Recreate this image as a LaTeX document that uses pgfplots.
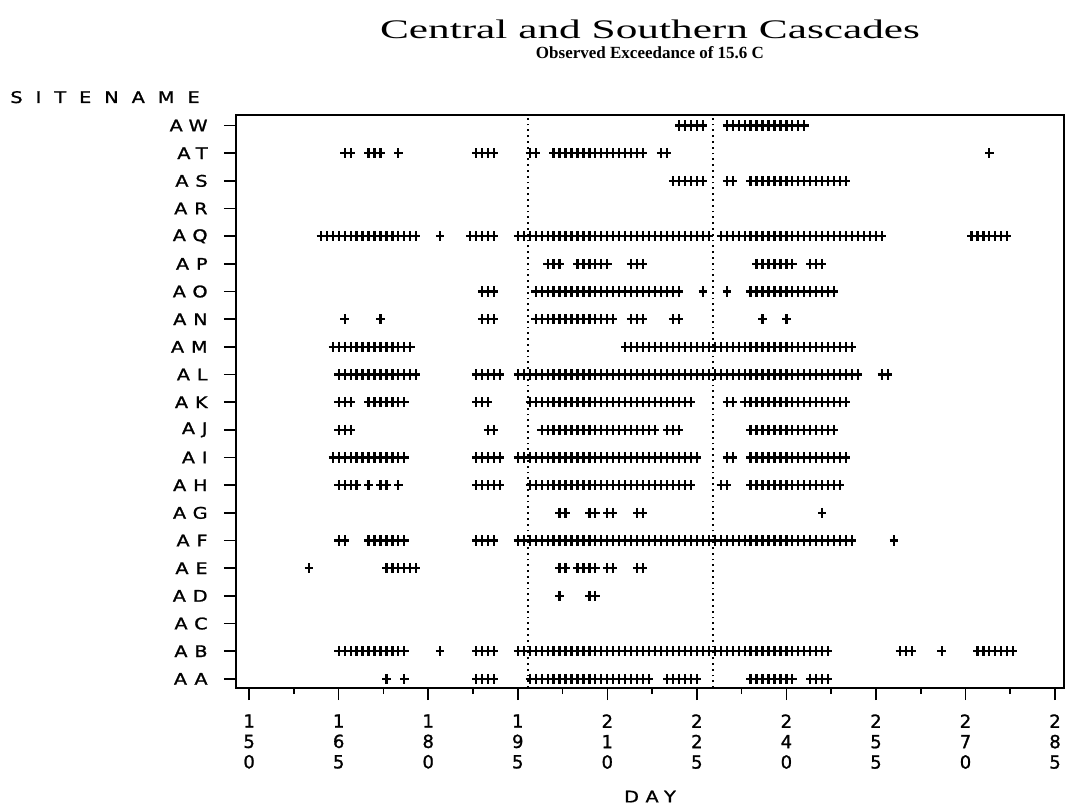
\documentclass[border=0pt]{standalone}
\usepackage{graphicx}
\usepackage{fontspec}
\usepackage{pgfplots}
\pgfplotsset{compat=1.18}
\setmainfont{Liberation Serif}
\newfontfamily\labfont[LetterSpace=36,FakeBold=1.2]{DejaVu Sans}
\newfontfamily\sitefont[LetterSpace=68,FakeBold=1.2]{DejaVu Sans}
\newfontfamily\digfont[FakeBold=1.2]{DejaVu Sans}
\newfontfamily\titfont{Liberation Serif}
\newcommand\ws[1]{\scalebox{1.2}[1]{#1}}

\pgfplotsset{plus/.style={only marks, black, mark=+, mark size=2.1pt, line width=1.1pt, mark options={yscale=1.2}}}

\begin{document}
\begin{tikzpicture}[x=1pt,y=1pt]
\path[use as bounding box] (0,0) rectangle (533.5,405);
\node[anchor=base,inner sep=0pt] at (325,385.5) {\resizebox{270pt}{9.3pt}{\titfont Central and Southern Cascades}};
\node[anchor=base,inner sep=0pt] at (325,375.5) {\resizebox{114pt}{6pt}{\titfont\bfseries Observed Exceedance of 15.6 C}};
\node[anchor=base west,inner sep=0pt] at (5,353.5) {\fontsize{8}{10}\sitefont\ws{SITENAME}};
\node[anchor=base,inner sep=0pt] at (325,3.8) {\fontsize{8}{10}\labfont\ws{DAY}};
\begin{axis}[
  at={(118pt,61pt)}, anchor=south west,
  width=414pt, height=286.5pt, scale only axis,
  xmin=147.8, xmax=286.5, ymin=-0.33, ymax=20.38,
  xtick={150,165,180,195,210,225,240,255,270,285},
  minor x tick num=1,
  xticklabels={{1\\5\\0},{1\\6\\5},{1\\8\\0},{1\\9\\5},{2\\1\\0},{2\\2\\5},{2\\4\\0},{2\\5\\5},{2\\7\\0},{2\\8\\5}},
  ytick={0,...,20},
  yticklabels={\ws{AA},\ws{AB},\ws{AC},\ws{AD},\ws{AE},\ws{AF},\ws{AG},\ws{AH},\ws{AI},\ws{AJ},\ws{AK},\ws{AL},\ws{AM},\ws{AN},\ws{AO},\ws{AP},\ws{AQ},\ws{AR},\ws{AS},\ws{AT},\ws{AW}},
  tick pos=left, tick align=outside,
  major tick length=6pt, minor tick length=3pt,
  axis line style={line width=1.3pt},
  every tick/.style={black, line width=0.8pt},
  xticklabel style={align=center, inner sep=0pt, anchor=north, yshift=-7pt,
    font={\fontsize{9}{10.2}\digfont}},
  yticklabel style={inner sep=0pt, anchor=east, xshift=-8pt,
    font={\fontsize{8}{10}\labfont}},
  clip=false,
]
\addplot[black, line width=0.9pt, dash pattern=on 0.9pt off 2pt] coordinates {(196.7,-0.33) (196.7,20.38)};
\addplot[black, line width=0.9pt, dash pattern=on 0.9pt off 2pt] coordinates {(227.7,-0.33) (227.7,20.38)};
% AW
\addplot[plus] coordinates {(222,20)(223,20)(224,20)(225,20)(226,20)(230,20)(231,20)(232,20)(233,20)(234,20)(235,20)(236,20)(237,20)(238,20)(239,20)(240,20)(241,20)(242,20)(243,20)};
% AT
\addplot[plus] coordinates {(166,19)(167,19)(170,19)(171,19)(172,19)(175,19)(188,19)(189,19)(190,19)(191,19)(197,19)(198,19)(201,19)(202,19)(203,19)(204,19)(205,19)(206,19)(207,19)(208,19)(209,19)(210,19)(211,19)(212,19)(213,19)(214,19)(215,19)(216,19)(219,19)(220,19)(274,19)};
% AS
\addplot[plus] coordinates {(221,18)(222,18)(223,18)(224,18)(225,18)(226,18)(230,18)(231,18)(234,18)(235,18)(236,18)(237,18)(238,18)(239,18)(240,18)(241,18)(242,18)(243,18)(244,18)(245,18)(246,18)(247,18)(248,18)(249,18)(250,18)};
% AQ
\addplot[plus] coordinates {(162,16)(163,16)(164,16)(165,16)(166,16)(167,16)(168,16)(169,16)(170,16)(171,16)(172,16)(173,16)(174,16)(175,16)(176,16)(177,16)(178,16)(182,16)(187,16)(188,16)(189,16)(190,16)(191,16)
(195,16)(196,16)(197,16)(198,16)(199,16)(200,16)(201,16)(202,16)(203,16)(204,16)(205,16)(206,16)(207,16)(208,16)(209,16)(210,16)(211,16)(212,16)(213,16)(214,16)(215,16)(216,16)(217,16)(218,16)(219,16)(220,16)(221,16)(222,16)(223,16)(224,16)(225,16)(226,16)(227,16)
(229,16)(230,16)(231,16)(232,16)(233,16)(234,16)(235,16)(236,16)(237,16)(238,16)(239,16)(240,16)(241,16)(242,16)(243,16)(244,16)(245,16)(246,16)(247,16)(248,16)(249,16)(250,16)(251,16)(252,16)(253,16)(254,16)(255,16)(256,16)
(271,16)(272,16)(273,16)(274,16)(275,16)(276,16)(277,16)};
% AP
\addplot[plus] coordinates {(200,15)(201,15)(202,15)(205,15)(206,15)(207,15)(208,15)(209,15)(210,15)(214,15)(215,15)(216,15)(235,15)(236,15)(237,15)(238,15)(239,15)(240,15)(241,15)(244,15)(245,15)(246,15)};
% AO
\addplot[plus] coordinates {(189,14)(190,14)(191,14)(198,14)(199,14)(200,14)(201,14)(202,14)(203,14)(204,14)(205,14)(206,14)(207,14)(208,14)(209,14)(210,14)(211,14)(212,14)(213,14)(214,14)(215,14)(216,14)(217,14)(218,14)(219,14)(220,14)(221,14)(222,14)(226,14)(230,14)
(234,14)(235,14)(236,14)(237,14)(238,14)(239,14)(240,14)(241,14)(242,14)(243,14)(244,14)(245,14)(246,14)(247,14)(248,14)};
% AN
\addplot[plus] coordinates {(166,13)(172,13)(189,13)(190,13)(191,13)(198,13)(199,13)(200,13)(201,13)(202,13)(203,13)(204,13)(205,13)(206,13)(207,13)(208,13)(209,13)(210,13)(211,13)(214,13)(215,13)(216,13)(221,13)(222,13)(236,13)(240,13)};
% AM
\addplot[plus] coordinates {(164,12)(165,12)(166,12)(167,12)(168,12)(169,12)(170,12)(171,12)(172,12)(173,12)(174,12)(175,12)(176,12)(177,12)
(213,12)(214,12)(215,12)(216,12)(217,12)(218,12)(219,12)(220,12)(221,12)(222,12)(223,12)(224,12)(225,12)(226,12)(227,12)(228,12)(229,12)(230,12)(231,12)(232,12)(233,12)(234,12)(235,12)(236,12)(237,12)(238,12)(239,12)(240,12)(241,12)(242,12)(243,12)(244,12)(245,12)(246,12)(247,12)(248,12)(249,12)(250,12)(251,12)};
% AL
\addplot[plus] coordinates {(165,11)(166,11)(167,11)(168,11)(169,11)(170,11)(171,11)(172,11)(173,11)(174,11)(175,11)(176,11)(177,11)(178,11)(188,11)(189,11)(190,11)(191,11)(192,11)
(195,11)(196,11)(197,11)(198,11)(199,11)(200,11)(201,11)(202,11)(203,11)(204,11)(205,11)(206,11)(207,11)(208,11)(209,11)(210,11)(211,11)(212,11)(213,11)(214,11)(215,11)(216,11)(217,11)(218,11)(219,11)(220,11)(221,11)(222,11)(223,11)
(224,11)(225,11)(226,11)(227,11)(228,11)(229,11)(230,11)(231,11)(232,11)(233,11)(234,11)(235,11)(236,11)(237,11)(238,11)(239,11)(240,11)(241,11)(242,11)(243,11)(244,11)(245,11)(246,11)(247,11)(248,11)(249,11)(250,11)(251,11)(252,11)(256,11)(257,11)};
% AK
\addplot[plus] coordinates {(165,10)(166,10)(167,10)(170,10)(171,10)(172,10)(173,10)(174,10)(175,10)(176,10)(188,10)(189,10)(190,10)
(197,10)(198,10)(199,10)(200,10)(201,10)(202,10)(203,10)(204,10)(205,10)(206,10)(207,10)(208,10)(209,10)(210,10)(211,10)(212,10)(213,10)(214,10)(215,10)(216,10)(217,10)(218,10)(219,10)(220,10)(221,10)(222,10)(223,10)(224,10)
(230,10)(231,10)(233,10)(234,10)(235,10)(236,10)(237,10)(238,10)(239,10)(240,10)(241,10)(242,10)(243,10)(244,10)(245,10)(246,10)(247,10)(248,10)(249,10)(250,10)};
% AJ
\addplot[plus] coordinates {(165,9)(166,9)(167,9)(190,9)(191,9)(199,9)(200,9)(201,9)(202,9)(203,9)(204,9)(205,9)(206,9)(207,9)(208,9)(209,9)(210,9)(211,9)(212,9)(213,9)(214,9)(215,9)(216,9)(217,9)(218,9)(220,9)(221,9)(222,9)
(234,9)(235,9)(236,9)(237,9)(238,9)(239,9)(240,9)(241,9)(242,9)(243,9)(244,9)(245,9)(246,9)(247,9)(248,9)};
% AI
\addplot[plus] coordinates {(164,8)(165,8)(166,8)(167,8)(168,8)(169,8)(170,8)(171,8)(172,8)(173,8)(174,8)(175,8)(176,8)(188,8)(189,8)(190,8)(191,8)(192,8)
(195,8)(196,8)(197,8)(198,8)(199,8)(200,8)(201,8)(202,8)(203,8)(204,8)(205,8)(206,8)(207,8)(208,8)(209,8)(210,8)(211,8)(212,8)(213,8)(214,8)(215,8)(216,8)(217,8)(218,8)(219,8)(220,8)(221,8)(222,8)(223,8)(224,8)(225,8)
(230,8)(231,8)(234,8)(235,8)(236,8)(237,8)(238,8)(239,8)(240,8)(241,8)(242,8)(243,8)(244,8)(245,8)(246,8)(247,8)(248,8)(249,8)(250,8)};
% AH
\addplot[plus] coordinates {(165,7)(166,7)(167,7)(168,7)(170,7)(172,7)(173,7)(175,7)(188,7)(189,7)(190,7)(191,7)(192,7)
(197,7)(198,7)(199,7)(200,7)(201,7)(202,7)(203,7)(204,7)(205,7)(206,7)(207,7)(208,7)(209,7)(210,7)(211,7)(212,7)(213,7)(214,7)(215,7)(216,7)(217,7)(218,7)(219,7)(220,7)(221,7)(222,7)(223,7)(224,7)
(229,7)(230,7)(234,7)(235,7)(236,7)(237,7)(238,7)(239,7)(240,7)(241,7)(242,7)(243,7)(244,7)(245,7)(246,7)(247,7)(248,7)(249,7)};
% AG
\addplot[plus] coordinates {(202,6)(203,6)(207,6)(208,6)(210,6)(211,6)(215,6)(216,6)(246,6)};
% AF
\addplot[plus] coordinates {(165,5)(166,5)(170,5)(171,5)(172,5)(173,5)(174,5)(175,5)(176,5)(188,5)(189,5)(190,5)(191,5)
(195,5)(196,5)(197,5)(198,5)(199,5)(200,5)(201,5)(202,5)(203,5)(204,5)(205,5)(206,5)(207,5)(208,5)(209,5)(210,5)(211,5)(212,5)(213,5)(214,5)(215,5)(216,5)(217,5)(218,5)(219,5)(220,5)(221,5)(222,5)(223,5)
(224,5)(225,5)(226,5)(227,5)(228,5)(229,5)(230,5)(231,5)(232,5)(233,5)(234,5)(235,5)(236,5)(237,5)(238,5)(239,5)(240,5)(241,5)(242,5)(243,5)(244,5)(245,5)(246,5)(247,5)(248,5)(249,5)(250,5)(251,5)(258,5)};
% AE
\addplot[plus] coordinates {(160,4)(173,4)(174,4)(175,4)(176,4)(177,4)(178,4)(202,4)(203,4)(205,4)(206,4)(207,4)(208,4)(210,4)(211,4)(215,4)(216,4)};
% AD
\addplot[plus] coordinates {(202,3)(207,3)(208,3)};
% AB
\addplot[plus] coordinates {(165,1)(166,1)(167,1)(168,1)(169,1)(170,1)(171,1)(172,1)(173,1)(174,1)(175,1)(176,1)(182,1)(188,1)(189,1)(190,1)(191,1)
(195,1)(196,1)(197,1)(198,1)(199,1)(200,1)(201,1)(202,1)(203,1)(204,1)(205,1)(206,1)(207,1)(208,1)(209,1)(210,1)(211,1)(212,1)(213,1)(214,1)(215,1)(216,1)(217,1)(218,1)(219,1)(220,1)(221,1)
(222,1)(223,1)(224,1)(225,1)(226,1)(227,1)(228,1)(229,1)(230,1)(231,1)(232,1)(233,1)(234,1)(235,1)(236,1)(237,1)(238,1)(239,1)(240,1)(241,1)(242,1)(243,1)(244,1)(245,1)(246,1)(247,1)
(259,1)(260,1)(261,1)(266,1)(272,1)(273,1)(274,1)(275,1)(276,1)(277,1)(278,1)};
% AA
\addplot[plus] coordinates {(173,0)(176,0)(188,0)(189,0)(190,0)(191,0)(197,0)(198,0)(199,0)(200,0)(201,0)(202,0)(203,0)(204,0)(205,0)(206,0)(207,0)(208,0)(209,0)(210,0)(211,0)(212,0)(213,0)(214,0)(215,0)(216,0)(217,0)
(220,0)(221,0)(222,0)(223,0)(224,0)(225,0)(234,0)(235,0)(236,0)(237,0)(238,0)(239,0)(240,0)(241,0)(244,0)(245,0)(246,0)(247,0)};
\end{axis}
\end{tikzpicture}
\end{document}
